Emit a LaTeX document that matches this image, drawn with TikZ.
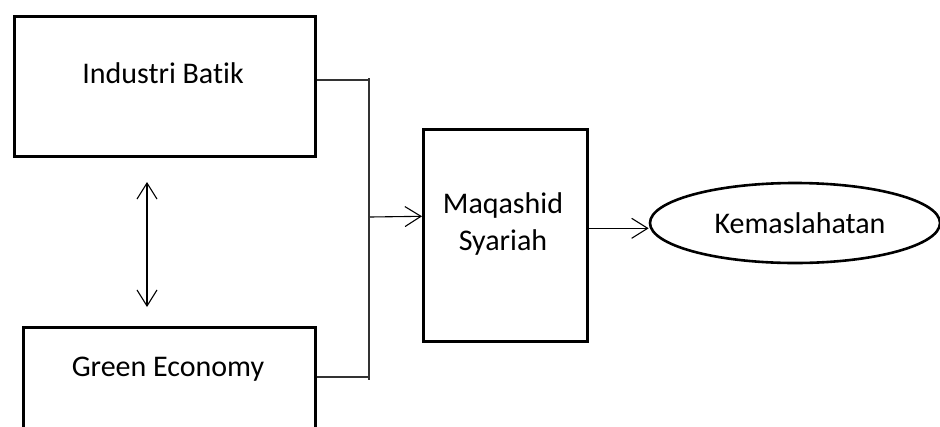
\documentclass[tikz,border=0pt]{standalone}
\usepackage{fontspec}
\setmainfont[Ligatures={NoCommon}]{Carlito}
\usetikzlibrary{shapes.geometric,arrows.meta}
\begin{document}
\begin{tikzpicture}[x=1pt,y=-1pt,
  box/.style={draw,line width=2.6pt,rectangle,inner sep=0pt},
  oval/.style={draw,line width=2.6pt,ellipse,inner sep=0pt},
  label/.style={font=\fontsize{30}{37}\selectfont,anchor=base,inner sep=0pt},
  link/.style={line width=1.1pt,draw=black!80},
  arr/.style={line width=1.1pt,-{Straight Barb[length=16pt,width=20pt,line width=1.1pt]}},
  darr/.style={line width=1.1pt,{Straight Barb[length=16pt,width=20pt,line width=1.1pt]}-{Straight Barb[length=16pt,width=20pt,line width=1.1pt]}}]
  % page frame
  \clip (0,0) rectangle (940,426);
  \fill[white] (0,0) rectangle (940,426);

  % boxes
  \node[box,minimum width=301pt,minimum height=140pt,anchor=north west] (ib) at (13,15) {};
  \node[box,minimum width=292pt,minimum height=140pt,anchor=north west] (ge) at (22,326) {};
  \node[box,minimum width=164pt,minimum height=212pt,anchor=north west] (ms) at (422,128) {};
  \node[oval,minimum width=290pt,minimum height=80pt] (ke) at (795,223) {};

  % texts
  \node[label] (ibt) at (163,83) {Industri Batik};
  \node[label] (get) at (168,376) {Green Economy};
  \node[label] (mst1) at (503,213) {Maqashid};
  \node[label] (mst2) at (503,250) {Syariah};
  \node[label] (ket) at (800,233) {Kemaslahatan};

  % junction of the two inputs
  \coordinate (jt) at (369,80);
  \coordinate (jb) at (369,377);
  \coordinate (jm) at (370,217);
  \draw[link] (jt -| ib.east) -- (jt);
  \draw[link] (jb -| ge.east) -- (jb);
  \draw[link] ([yshift=2pt]jt) -- ([yshift=-3pt]jb);
  \draw[arr] (jm) -- ([yshift=19pt]ms.west);

  % output
  \coordinate (mo) at ([yshift=7pt]ms.east);
  \draw[arr] (mo) -- (mo -| ke.west);

  % two-way relation
  \coordinate (da) at (147,182);
  \coordinate (db) at (147,307);
  \draw[darr] (da) -- (db);
\end{tikzpicture}
\end{document}
